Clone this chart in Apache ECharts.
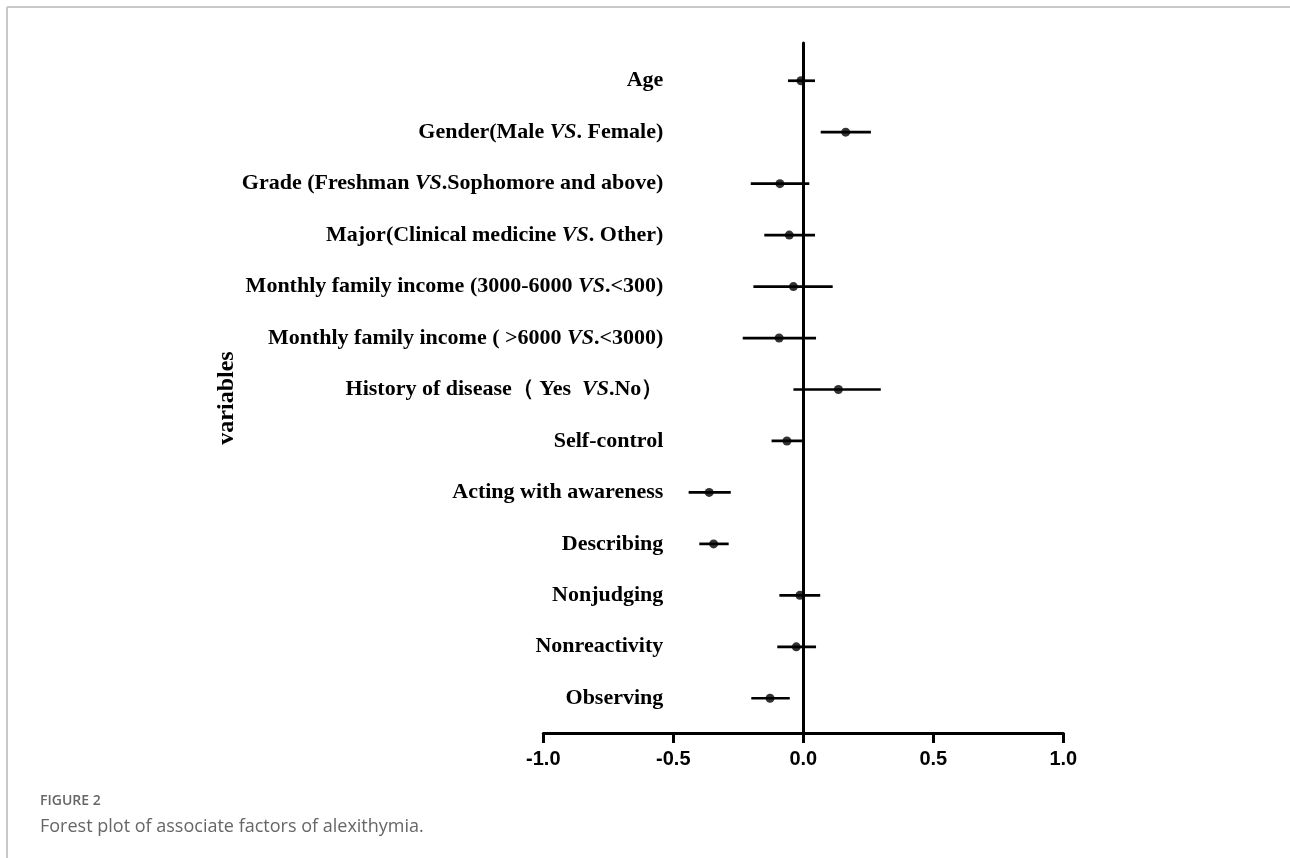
<!DOCTYPE html>
<html>
<head>
<meta charset="utf-8">
<script src="https://cdn.jsdelivr.net/npm/echarts@6/dist/echarts.min.js"></script>
<style>
html,body{margin:0;padding:0;background:#fff;}
#chart{width:1290px;height:858px;}
</style>
</head>
<body>
<div id="chart"></div>
<script>
// Data
const categories = [
  "Age",
  "Gender(Male {i|VS}. Female)",
  "Grade (Freshman {i|VS}.Sophomore and above)",
  "Major(Clinical medicine {i|VS}. Other)",
  "Monthly family income (3000-6000 {i|VS}.<300)",
  "Monthly family income ( >6000 {i|VS}.<3000)",
  "History of disease（ Yes  {i|VS}.No）",
  "Self-control",
  "Acting with awareness",
  "Describing",
  "Nonjudging",
  "Nonreactivity",
  "Observing"
];
const estimate = [-0.009, 0.163, -0.090, -0.054, -0.038, -0.093, 0.135, -0.063, -0.362, -0.345, -0.013, -0.027, -0.128];
const lower    = [-0.059, 0.067, -0.202, -0.150, -0.192, -0.233, -0.038, -0.122, -0.441, -0.400, -0.092, -0.100, -0.200];
const upper    = [ 0.045, 0.260,  0.023,  0.045,  0.113,  0.049,  0.298,  0.000, -0.279, -0.287,  0.065,  0.049, -0.052];
const xTicks = [-1.0, -0.5, 0.0, 0.5, 1.0];

const chart = echarts.init(document.getElementById('chart'), null, {renderer: 'canvas'});

const ciData = categories.map((c, i) => [lower[i], upper[i], i]);
const ptData = categories.map((c, i) => [estimate[i], i]);
const serif = '"Liberation Serif", "Times New Roman", serif';

const option = {
  backgroundColor: '#fff',
  animation: false,
  grid: [
    {left: 673.3, right: 226.7, top: 55, bottom: 134},
    {left: 543.3, right: 226.7, top: 43, bottom: 125}
  ],
  xAxis: [
    {gridIndex: 0, type: 'value', min: -0.5, max: 1, show: false},
    {gridIndex: 1, type: 'value', min: xTicks[0], max: xTicks[xTicks.length - 1], interval: 0.5,
     axisLine: {show: true, onZero: false, lineStyle: {color: '#000', width: 3}},
     axisTick: {show: true, length: 10, lineStyle: {color: '#000', width: 3}},
     splitLine: {show: false},
     axisLabel: {color: '#000', fontFamily: '"Liberation Sans", Arial, sans-serif', fontWeight: 'bold', fontSize: 20, margin: 16,
                 formatter: v => v.toFixed(1)}}
  ],
  yAxis: [
    {gridIndex: 0, type: 'category', inverse: true, data: categories,
     axisLine: {show: false}, axisTick: {show: false}, splitLine: {show: false},
     axisLabel: {margin: 10, color: '#000', fontFamily: serif, fontWeight: 'bold', fontSize: 22,
                 rich: {i: {fontStyle: 'italic', fontWeight: 'bold', fontFamily: serif, fontSize: 22, color: '#000'}}}},
    {gridIndex: 1, type: 'value', min: 0, max: 1,
     axisLine: {show: true, onZero: true, lineStyle: {color: '#000', width: 3}},
     axisTick: {show: false}, axisLabel: {show: false}, splitLine: {show: false}}
  ],
  series: [
    {
      type: 'custom', xAxisIndex: 0, yAxisIndex: 0, data: ciData, z: 3,
      renderItem: function (params, api) {
        const p1 = api.coord([api.value(0), api.value(2)]);
        const p2 = api.coord([api.value(1), api.value(2)]);
        return {type: 'line', shape: {x1: p1[0], y1: p1[1], x2: p2[0], y2: p2[1]},
                style: {stroke: '#000', lineWidth: 2.7}};
      },
      encode: {x: [0, 1], y: 2}
    },
    {
      type: 'scatter', xAxisIndex: 0, yAxisIndex: 0, data: ptData, z: 4,
      symbol: 'circle', symbolSize: 9, itemStyle: {color: '#000'}
    }
  ],
  graphic: [
    {type: 'line', shape: {x1: 7, y1: 7, x2: 1290, y2: 7}, style: {stroke: '#c8c8c8', lineWidth: 2}},
    {type: 'line', shape: {x1: 7, y1: 7, x2: 7, y2: 858}, style: {stroke: '#c8c8c8', lineWidth: 2}},
    {type: 'text', x: 227, y: 398, rotation: Math.PI / 2,
     style: {text: 'variables', fill: '#000', font: 'bold 24px ' + serif, textAlign: 'center', textVerticalAlign: 'middle'}},
    {type: 'text', left: 40, top: 794, style: {text: 'FIGURE 2', fill: '#666', font: '600 14px "Open Sans", Lato, sans-serif'}},
    {type: 'text', left: 40, top: 818, style: {text: 'Forest plot of associate factors of alexithymia.', fill: '#666', font: '18px "Open Sans", Lato, sans-serif'}}
  ]
};
chart.setOption(option);
</script>
</body>
</html>
